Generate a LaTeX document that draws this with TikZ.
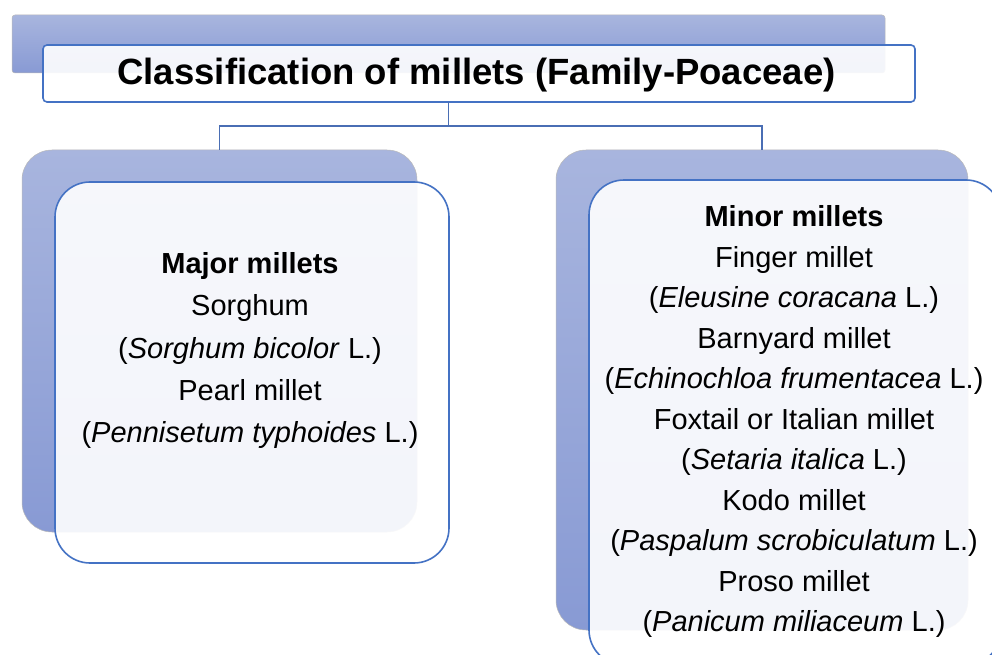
\documentclass[tikz,border=0pt]{standalone}
\usepackage{fontspec}
\setmainfont{Liberation Sans}
\definecolor{backtop}{RGB}{168,181,222}
\definecolor{backbot}{RGB}{136,154,212}
\definecolor{edgeblue}{RGB}{68,114,196}
\definecolor{linkblue}{RGB}{74,110,180}
\tikzset{
  backbox/.style={rectangle, anchor=north west, inner sep=0pt, outer sep=0pt,
    top color=backtop, bottom color=backbot, draw=gray!55, line width=0.5pt},
  frontbox/.style={rectangle, anchor=north west, inner sep=0pt, outer sep=0pt,
    draw=edgeblue, line width=1.6pt, fill=white, fill opacity=0.9, text opacity=1},
  link/.style={draw=linkblue, line width=1.8pt},
  leftlines/.style={align=center, inner sep=0pt, font=\fontsize{29}{42.3}\selectfont},
  rightlines/.style={align=center, inner sep=0pt, font=\fontsize{29}{40.5}\selectfont},
}
\begin{document}
\begin{tikzpicture}[x=1pt, y=-1pt]
\clip (0,0) rectangle (992,655);
\fill[white] (0,0) rectangle (992,655);
% back boxes
\node[backbox, rounded corners=3pt, minimum width=873pt, minimum height=58pt] (titleback) at (12,15) {};
\node[backbox, rounded corners=30pt, minimum width=395pt, minimum height=382pt] (leftback) at (22,150) {};
\node[backbox, rounded corners=30pt, minimum width=412pt, minimum height=480pt] (rightback) at (556,150) {};
% front boxes
\node[frontbox, rounded corners=4pt, minimum width=872pt, minimum height=57pt] (title) at (43,45) {};
\node[frontbox, rounded corners=35pt, minimum width=394pt, minimum height=381pt] (leftfront) at (55,182) {};
\node[frontbox, rounded corners=35pt, minimum width=412pt, minimum height=485pt] (rightfront) at (589,180) {};
% title text
\node[inner sep=0pt, font=\fontsize{36.5}{44}\selectfont\bfseries] (titletext) at (476.5,75) {Classification of millets (Family-Poaceae)};
% connectors
\coordinate (junction) at (titleback.south |- 0,126);
\draw[link] (titleback.south |- title.south) -- (junction);
\draw[link] (junction) -| (leftback.north);
\draw[link] (junction) -| (rightback.north);
% box texts
\node[leftlines] (majortext) at (250,350.5) {\textbf{Major millets}\\
Sorghum\\
(\textit{Sorghum bicolor} L.)\\
Pearl millet\\
(\textit{Pennisetum typhoides} L.)};
\node[rightlines] (minortext) at (794,421.5) {\textbf{Minor millets}\\
Finger millet\\
(\textit{Eleusine coracana} L.)\\
Barnyard millet\\
(\textit{Echinochloa frumentacea} L.)\\
Foxtail or Italian millet\\
(\textit{Setaria italica} L.)\\
Kodo millet\\
(\textit{Paspalum scrobiculatum} L.)\\
Proso millet\\
(\textit{Panicum miliaceum} L.)};
\end{tikzpicture}
\end{document}
